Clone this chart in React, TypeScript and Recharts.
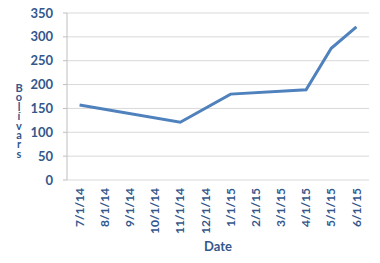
import React from 'react';
import { LineChart, Line, XAxis, YAxis, CartesianGrid } from 'recharts';

const dates = ['7/1/14', '8/1/14', '9/1/14', '10/1/14', '11/1/14', '12/1/14', '1/1/15', '2/1/15', '3/1/15', '4/1/15', '5/1/15', '6/1/15'];
const bolivars: (number | null)[] = [157, null, null, null, 121, null, 180, null, null, 189, 276, 321];
const yTicks = [0, 50, 100, 150, 200, 250, 300, 350];
const boundaryTicks = [0, 1, 2, 3, 4, 5, 6, 7, 8, 9, 10, 11, 12];

const data = dates.map((d, i) => ({ date: d, value: bolivars[i] }));

const TEXT = '#34578C';
const FONT = 'Lato, "Open Sans", sans-serif';

const XTick = (props: any) => {
  const { x, y, payload } = props;
  return (
    <text
      x={x}
      y={y}
      transform={`rotate(-90, ${x}, ${y})`}
      textAnchor="end"
      dy="0.35em"
      fill={TEXT}
      fontSize={12}
      fontWeight="bold"
      fontFamily={FONT}
    >
      {payload.value}
    </text>
  );
};

const EmptyTick = () => <g />;

const YLabel = () => (
  <text
    x={19}
    y={81}
    fill={TEXT}
    fontSize={11}
    fontWeight="bold"
    fontFamily={FONT}
    style={{ writingMode: 'vertical-lr', textOrientation: 'upright', letterSpacing: -3.6 } as any}
  >
    Bolívars
  </text>
);

export default function App() {
  return (
    <div style={{ position: 'absolute', left: 0, top: 0, width: 380, height: 263, background: '#fff' }}>
      <LineChart width={380} height={263} data={data} margin={{ top: 13, right: 11, left: 0, bottom: 0 }}>
        <CartesianGrid vertical={false} stroke="#D9D9D9" strokeWidth={1} />
        <XAxis
          xAxisId="bound"
          type="number"
          domain={[0, 12]}
          ticks={boundaryTicks}
          tick={<EmptyTick />}
          tickSize={5}
          tickLine={{ stroke: '#BFBFBF' }}
          axisLine={{ stroke: '#BFBFBF' }}
          height={0}
          allowDataOverflow
        />
        <XAxis
          xAxisId="cat"
          dataKey="date"
          scale="band"
          interval={0}
          tickLine={false}
          axisLine={false}
          tick={<XTick />}
          tickSize={0}
          tickMargin={8}
          height={83}
          label={{ value: 'Date', position: 'insideBottom', offset: 12, fill: TEXT, fontSize: 13, fontWeight: 'bold', fontFamily: FONT }}
        />
        <YAxis
          domain={[0, 350]}
          ticks={yTicks}
          width={67}
          tickSize={4}
          tickMargin={10}
          tickLine={{ stroke: '#BFBFBF' }}
          axisLine={{ stroke: '#BFBFBF' }}
          tick={{ fill: TEXT, fontSize: 13, fontWeight: 'bold', fontFamily: FONT }}
          label={<YLabel />}
        />
        <Line
          xAxisId="cat"
          type="linear"
          dataKey="value"
          stroke="#4F81BD"
          strokeWidth={3}
          dot={false}
          connectNulls
          isAnimationActive={false}
        />
      </LineChart>
    </div>
  );
}
